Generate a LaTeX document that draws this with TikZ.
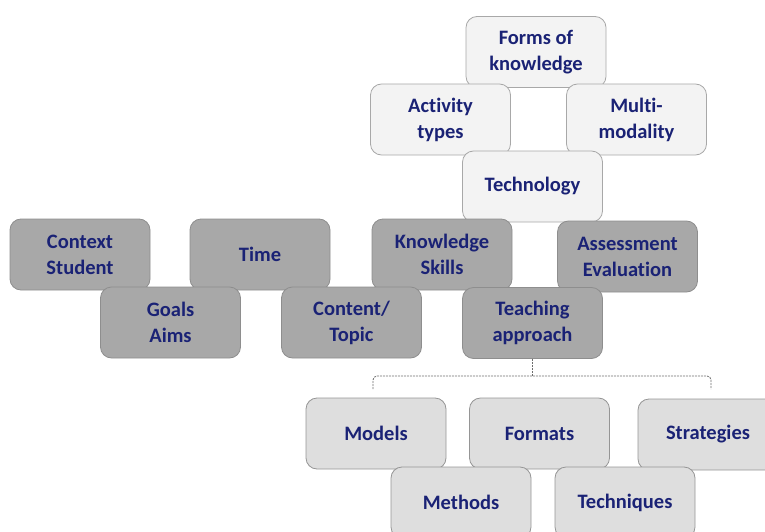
\documentclass[tikz,border=0pt]{standalone}
\usepackage{fontspec}
\setmainfont[Ligatures={NoCommon}]{Carlito}
\definecolor{txt}{HTML}{1A2275}
\definecolor{lightfill}{HTML}{F3F3F3}
\definecolor{lightdraw}{HTML}{A8A8A8}
\definecolor{darkfill}{HTML}{A8A8A8}
\definecolor{darkdraw}{HTML}{8E8E8E}
\definecolor{midfill}{HTML}{DEDEDE}
\definecolor{middraw}{HTML}{959595}
\definecolor{brk}{HTML}{6E6E6E}
\begin{document}
\begin{tikzpicture}[x=1pt,y=-1pt,
  box/.style={rounded corners=11pt, minimum width=140pt, minimum height=71pt, inner sep=0pt,
    align=center, text=txt, font=\fontsize{20.5}{26}\selectfont\bfseries, line width=0.8pt},
  lightbox/.style={box, fill=lightfill, draw=lightdraw},
  darkbox/.style={box, fill=darkfill, draw=darkdraw},
  midbox/.style={box, fill=midfill, draw=middraw}]
\useasboundingbox (0,0) rectangle (765,532);
% top light group
\node[lightbox] (forms) at (536,52) {Forms of\\knowledge};
\node[lightbox] (act) at (440.5,119.5) {Activity\\types};
\node[lightbox] (multi) at (636.5,119.5) {Multi-\\modality};
\node[lightbox] (tech) at (532.5,186.5) {Technology};
% dark group
\node[darkbox] (ctx) at (80,254.5) {Context\\Student};
\node[darkbox] (time) at (260,254.5) {Time};
\node[darkbox] (know) at (442,254.5) {Knowledge\\Skills};
\node[darkbox] (assess) at (627.5,256.5) {Assessment\\Evaluation};
\node[darkbox] (goals) at (170.5,322.5) {Goals\\Aims};
\node[darkbox] (content) at (351.5,322.5) {Content/\\Topic};
\node[darkbox] (teach) at (532.5,323) {Teaching\\approach};
% bracket
\coordinate (bl) at (373,389);
\coordinate (br) at (711,389);
\coordinate (bar) at (534,376);
\draw[brk, line width=0.8pt, dash pattern=on 2pt off 1pt] (teach.south) -- (teach.south |- bar);
\draw[brk, line width=0.8pt, dash pattern=on 2pt off 1pt, rounded corners=4pt]
  (bl) -- (bl |- bar) -- (br |- bar) -- (br);
% bottom group
\node[midbox] (models) at (376,433.5) {Models};
\node[midbox] (formats) at (539.5,433.5) {Formats};
\node[midbox] (strat) at (708,434.5) {Strategies};
\node[midbox] (methods) at (461,502.5) {Methods};
\node[midbox] (techn) at (625,502.5) {Techniques};
\end{tikzpicture}
\end{document}
